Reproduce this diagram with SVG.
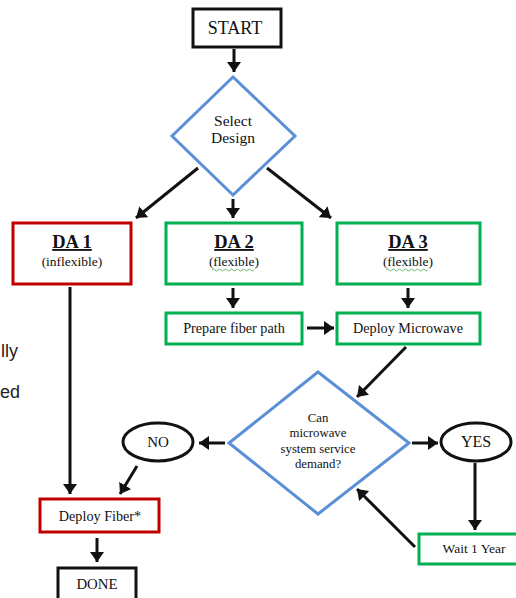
<svg xmlns="http://www.w3.org/2000/svg" width="516" height="598" viewBox="0 0 516 598">
<style>
text{font-family:'Liberation Serif','DejaVu Serif',serif;fill:#111;text-anchor:middle}
.blk{fill:#fff;stroke:#111;stroke-width:3}
.red{fill:#fff;stroke:#c00000;stroke-width:3}
.grn{fill:#fff;stroke:#00b050;stroke-width:3}
.dia{fill:#fff;stroke:#5b8fd6;stroke-width:3}
.con line{stroke:#111;stroke-width:3;marker-end:url(#ah)}
.da{font-size:18.5px;font-weight:bold;text-decoration:underline}
.sub{font-size:13.5px}
.lbl{font-size:14.2px}
text.side{font-family:'Liberation Sans',Arial,sans-serif;font-size:18px;text-anchor:start;fill:#222}
.sq{fill:none;stroke:#4caf50;stroke-width:0.8}
</style>
<defs>
<marker id="ah" viewBox="0 0 10 14" refX="10" refY="7" markerWidth="10" markerHeight="14" markerUnits="userSpaceOnUse" orient="auto">
<path d="M0,0 L10,7 L0,14 z" fill="#111"/>
</marker>
</defs>
<rect width="516" height="598" fill="#fff"/>
<text class="side" x="1" y="357">lly</text>
<text class="side" x="0" y="398">ed</text>
<g class="con" id="connectors">
<line x1="234" y1="49" x2="234" y2="72"/>
<line x1="198" y1="168" x2="136" y2="218"/>
<line x1="233" y1="199" x2="233" y2="218"/>
<line x1="267" y1="168" x2="331" y2="218"/>
<line x1="233" y1="288" x2="233" y2="308"/>
<line x1="408" y1="288" x2="408" y2="308"/>
<line x1="307" y1="328" x2="334" y2="328"/>
<line x1="406" y1="347" x2="357" y2="397"/>
<line x1="225" y1="443" x2="199" y2="443"/>
<line x1="412" y1="443" x2="438" y2="443"/>
<line x1="70" y1="287" x2="70" y2="494"/>
<line x1="137" y1="466" x2="120" y2="494"/>
<line x1="475" y1="463" x2="475" y2="530"/>
<line x1="415" y1="547" x2="357" y2="489"/>
<line x1="97" y1="538" x2="97" y2="562"/>
</g>
<g id="start">
<rect class="blk" x="193" y="9" width="88" height="38"/>
<text x="235" y="34" font-size="18">START</text>
</g>
<g id="select">
<polygon class="dia" points="233,77 295,136 233,195 172,136"/>
<text x="233" y="126" font-size="15.5">Select</text>
<text x="233" y="143" font-size="15.5">Design</text>
</g>
<g id="da1">
<rect class="red" x="13" y="223" width="118" height="61"/>
<text class="da" x="72" y="248">DA 1</text>
<text class="sub" x="72" y="266">(inflexible)</text>
</g>
<g id="da2">
<rect class="grn" x="166" y="223" width="136" height="61"/>
<text class="da" x="234" y="248">DA 2</text>
<text class="sub" x="234" y="266">(flexible)</text>
<path class="sq" d="M212,270 q1.5,-2 3,0 t3,0 t3,0 t3,0 t3,0 t3,0 t3,0 t3,0 t3,0 t3,0 t3,0 t3,0 t3,0 t3,0"/>
</g>
<g id="da3">
<rect class="grn" x="337" y="223" width="143" height="61"/>
<text class="da" x="408" y="248">DA 3</text>
<text class="sub" x="408" y="266">(flexible)</text>
<path class="sq" d="M386,270 q1.5,-2 3,0 t3,0 t3,0 t3,0 t3,0 t3,0 t3,0 t3,0 t3,0 t3,0 t3,0 t3,0 t3,0 t3,0"/>
</g>
<g id="prepare">
<rect class="grn" x="166" y="313" width="136" height="31"/>
<text class="lbl" x="234" y="333">Prepare fiber path</text>
</g>
<g id="microwave">
<rect class="grn" x="337" y="313" width="143" height="31"/>
<text class="lbl" x="408" y="333">Deploy Microwave</text>
</g>
<g id="decision">
<polygon class="dia" points="318,372 409,443 318,514 229,443"/>
<text x="318" y="421.5" font-size="12.8">Can</text>
<text x="318" y="437" font-size="12.8">microwave</text>
<text x="318" y="452.5" font-size="12.8">system service</text>
<text x="318" y="468" font-size="12.8">demand?</text>
</g>
<g id="no">
<ellipse class="blk" cx="158" cy="442" rx="35" ry="19"/>
<text x="158" y="447" font-size="15">NO</text>
</g>
<g id="yes">
<ellipse class="blk" cx="476" cy="442" rx="35" ry="19"/>
<text x="476" y="447" font-size="16">YES</text>
</g>
<g id="fiber">
<rect class="red" x="40" y="499" width="119" height="33"/>
<text class="lbl" x="100" y="521">Deploy Fiber*</text>
</g>
<g id="done">
<rect class="blk" x="58" y="568" width="78" height="40"/>
<text x="97" y="589" font-size="14.8">DONE</text>
</g>
<g id="wait">
<rect class="grn" x="419" y="534" width="102" height="30"/>
<text x="474" y="553" font-size="13.5">Wait 1 Year</text>
</g>
</svg>
